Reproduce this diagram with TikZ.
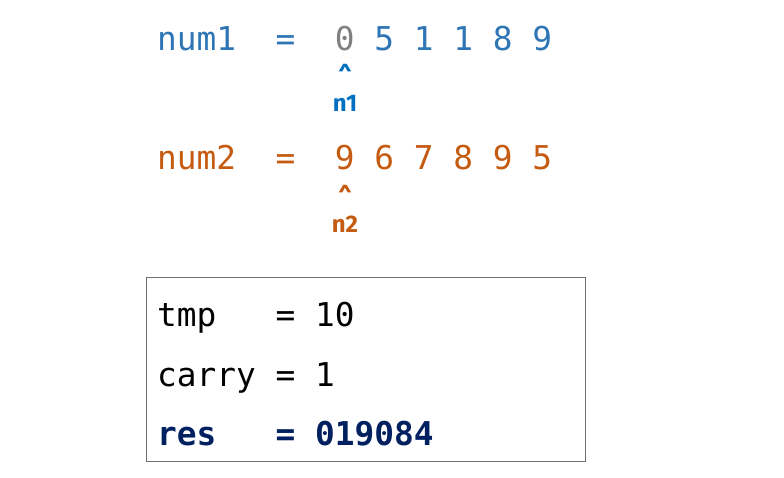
\documentclass[tikz,border=0pt]{standalone}
\usepackage{fontspec}
\setmonofont{DejaVu Sans Mono}
\newfontfamily\labfont{Fira Sans}
\definecolor{numblue}{HTML}{2E75B6}
\definecolor{numorange}{HTML}{C55A11}
\definecolor{ptrblue}{HTML}{0070C0}
\definecolor{resnavy}{HTML}{002060}
\definecolor{zerogray}{HTML}{808080}
\definecolor{boxgray}{HTML}{6E6E6E}
\begin{document}
\begin{tikzpicture}[x=1pt,y=-1pt,
  codetext/.style={inner sep=0pt,anchor=base west,font=\ttfamily\fontsize{32.8}{36}\selectfont},
  ptrtext/.style={inner sep=0pt,anchor=base,font=\labfont\bfseries\fontsize{24}{26}\selectfont},
  varbox/.style={draw=boxgray,line width=1.2pt}]
\useasboundingbox (0,0) rectangle (784,478);
\node[codetext,text=numblue] (num1) at (157,51) {num1\ \ =\ \ \textcolor{zerogray}{0} 5 1 1 8 9};
\node[ptrtext,text=ptrblue] (c1) at (345,85) {\string^};
\node[ptrtext,text=ptrblue] (n1) at (345,112) {n1};
\node[codetext,text=numorange] (num2) at (157,170) {num2\ \ =\ \ 9 6 7 8 9 5};
\node[ptrtext,text=numorange] (c2) at (345,206) {\string^};
\node[ptrtext,text=numorange] (n2) at (345,233) {n2};
\draw[varbox] (146.5,277.5) rectangle (585.5,461.5);
\node[codetext] (tmp) at (157,326) {tmp\ \ \ = 10};
\node[codetext] (carry) at (157,386) {carry = 1};
\node[codetext,text=resnavy,font=\ttfamily\bfseries\fontsize{32.8}{36}\selectfont] (res) at (157,445) {res\ \ \ = 019084};
\end{tikzpicture}
\end{document}
